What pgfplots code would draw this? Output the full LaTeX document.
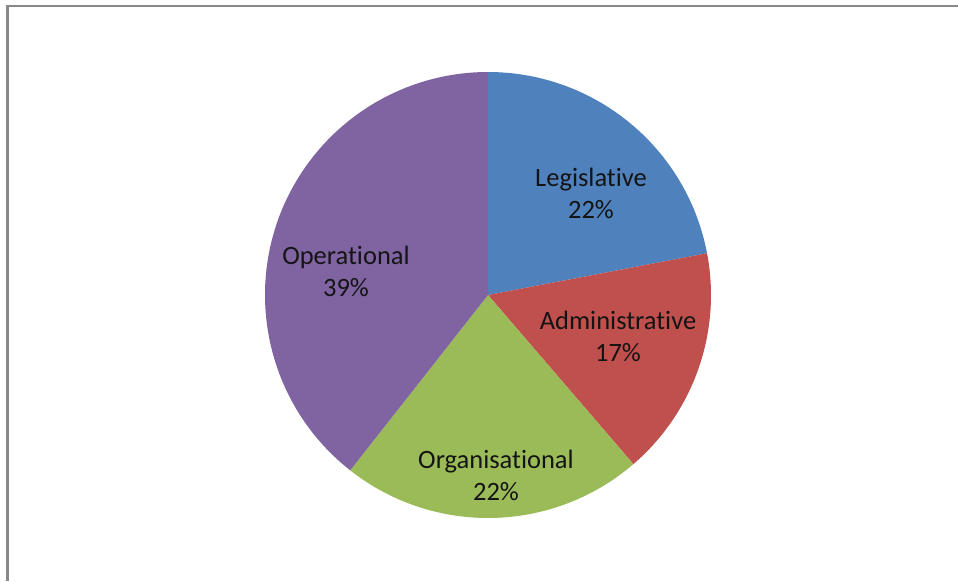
\documentclass[border=0pt]{standalone}
\usepackage{fontspec}
\setmainfont{Carlito}[Ligatures=NoCommon]
\usepackage{pgfplots}
\usepackage{pgfplotstable}
\pgfplotsset{compat=1.18}

\definecolor{pieblue}{HTML}{4F81BD}
\definecolor{piered}{HTML}{C0504D}
\definecolor{piegreen}{HTML}{9BBB59}
\definecolor{piepurple}{HTML}{8064A2}
\definecolor{framegray}{HTML}{888888}

% share of each slice (percent), colour, label centre in pixel units
\pgfplotstableread{
name           value col       lx  ly  pct
Legislative    22.0  pieblue   591 193 22
Administrative 16.7  piered    618 336 17
Organisational 21.9  piegreen  496 475 22
Operational    39.4  piepurple 346 271 39
}\piedata

\begin{document}
\begin{tikzpicture}
\begin{axis}[
  scale only axis,
  width=958pt, height=581pt,
  xmin=0, xmax=958, ymin=0, ymax=581,
  y dir=reverse,
  hide axis, clip=false,
]
  \pgfmathsetmacro\startang{90}
  \pgfplotsforeachungrouped \i in {0,...,3}{%
    \pgfplotstablegetelem{\i}{value}\of\piedata \let\val\pgfplotsretval
    \pgfplotstablegetelem{\i}{col}\of\piedata \let\col\pgfplotsretval
    \pgfmathsetmacro\endang{\startang-3.6*\val}
    \edef\cmd{\noexpand\fill[\col] (axis cs:488,295) -- ++(\startang:223pt)
      arc[start angle=\startang, end angle=\endang, radius=223pt] -- cycle;}
    \cmd
    \global\let\startang\endang
  }
  \pgfplotsforeachungrouped \i in {0,...,3}{%
    \pgfplotstablegetelem{\i}{name}\of\piedata \let\nm\pgfplotsretval
    \pgfplotstablegetelem{\i}{lx}\of\piedata \let\lx\pgfplotsretval
    \pgfplotstablegetelem{\i}{ly}\of\piedata \let\ly\pgfplotsretval
    \pgfplotstablegetelem{\i}{pct}\of\piedata \let\pc\pgfplotsretval
    \edef\cmd{\noexpand\node[align=center, text=black!92,
      font=\noexpand\fontsize{26.5}{32}\noexpand\selectfont]
      at (axis cs:\lx,\ly) {\nm\noexpand\\\pc\noexpand\%};}
    \cmd
  }
  \draw[framegray, line width=2.5pt] (axis cs:7.3,581) -- (axis cs:7.3,6) -- (axis cs:958,6);
\end{axis}
\pgfresetboundingbox
\path[use as bounding box] (0,0) rectangle (958pt,581pt);
\end{tikzpicture}
\end{document}
